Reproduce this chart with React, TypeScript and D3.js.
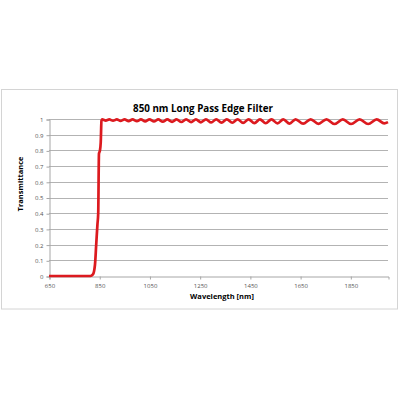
import React, { useEffect, useRef } from 'react';
import * as d3 from 'd3';

// Wavelength samples [nm] and transmittance
const wavelengths = [
  650, 815, 825, 833, 838, 843, 846, 849, 853, 856, 859, 862,
  876, 890, 905, 920, 935, 951, 967, 983, 1000, 1016, 1033, 1050, 1068, 1085,
  1103, 1121, 1140, 1158, 1177, 1196, 1216, 1235, 1255, 1275, 1296, 1316, 1337,
  1358, 1380, 1401, 1423, 1445, 1468, 1490, 1513, 1536, 1560, 1583, 1608, 1632,
  1662, 1692, 1723, 1755, 1787, 1820, 1853, 1887, 1921, 1955, 1985, 2000,
];
const transmittance = [
  0, 0, 0.01, 0.07, 0.2, 0.33, 0.4, 0.78, 0.8, 0.85, 0.99, 0.997,
  0.99, 0.997, 0.989, 0.997, 0.988, 0.997, 0.987, 0.997, 0.986, 0.997, 0.985, 0.997, 0.984, 0.997,
  0.983, 0.997, 0.982, 0.997, 0.981, 0.997, 0.98, 0.997, 0.979, 0.998, 0.978, 0.998, 0.977,
  0.998, 0.976, 0.998, 0.975, 0.998, 0.974, 0.998, 0.973, 0.998, 0.972, 0.998, 0.971, 0.998,
  0.97, 0.998, 0.969, 0.998, 0.968, 0.998, 0.968, 0.998, 0.968, 0.998, 0.972, 0.98,
];
const xTicks = [650, 850, 1050, 1250, 1450, 1650, 1850];
const yTicks = [0, 0.1, 0.2, 0.3, 0.4, 0.5, 0.6, 0.7, 0.8, 0.9, 1];

export default function App() {
  const svgRef = useRef<SVGSVGElement>(null);

  useEffect(() => {
    if (!svgRef.current) return;
    document.body.style.margin = '0';

    const svg = d3.select(svgRef.current);
    svg.selectAll('*').remove();

    const left = 49, right = 388, top = 119, bottom = 276;
    const font = "'Open Sans', 'Liberation Sans', sans-serif";

    const x = d3.scaleLinear().domain([650, 2000]).range([left, right]);
    const y = d3.scaleLinear().domain([0, 1]).range([bottom, top]);

    svg.append('rect')
      .attr('width', 400).attr('height', 400).attr('fill', '#fff');

    // chart border
    svg.append('rect')
      .attr('x', 1.5).attr('y', 89.5)
      .attr('width', 396).attr('height', 219.5)
      .attr('fill', 'none').attr('stroke', '#d4d4d4').attr('stroke-width', 1);

    // gridlines
    svg.append('g')
      .selectAll('line')
      .data(yTicks.slice(1))
      .enter()
      .append('line')
      .attr('x1', left).attr('x2', right)
      .attr('y1', d => Math.round(y(d)) + 0.5)
      .attr('y2', d => Math.round(y(d)) + 0.5)
      .attr('stroke', '#b3b3b3').attr('stroke-width', 1);

    // y axis
    const yAxis = svg.append('g')
      .attr('transform', `translate(${left + 0.5},0.5)`)
      .call(d3.axisLeft(y).tickValues(yTicks).tickSize(3).tickPadding(3).tickFormat(d => String(+d)));
    yAxis.select('.domain').attr('stroke', '#a6a6a6');
    yAxis.selectAll('.tick line').attr('stroke', '#a6a6a6');
    yAxis.selectAll('text').attr('font-family', font).attr('font-size', 6).attr('fill', '#555');

    // x axis
    const xAxis = svg.append('g')
      .attr('transform', `translate(0.5,${bottom + 0.5})`)
      .call(d3.axisBottom(x).tickValues(xTicks).tickSizeOuter(0).tickSize(3).tickPadding(4).tickFormat(d => String(d)));
    xAxis.select('.domain').attr('stroke', '#a6a6a6');
    xAxis.selectAll('.tick line').attr('stroke', '#a6a6a6');
    xAxis.selectAll('text').attr('font-family', font).attr('font-size', 6).attr('fill', '#555');

    // curve
    const line = d3.line<number>()
      .x((_, i) => x(wavelengths[i]))
      .y(d => y(d))
      .curve(d3.curveMonotoneX);

    svg.append('path')
      .datum(transmittance)
      .attr('d', line)
      .attr('fill', 'none')
      .attr('stroke', '#dc1a1f')
      .attr('stroke-width', 2.7)
      .attr('stroke-linejoin', 'round');

    // titles
    svg.append('text')
      .attr('x', 203).attr('y', 112)
      .attr('text-anchor', 'middle')
      .attr('font-family', font).attr('font-weight', 'bold').attr('font-size', 9.8)
      .attr('fill', '#000')
      .text('850 nm Long Pass Edge Filter');

    svg.append('text')
      .attr('x', 222).attr('y', 299)
      .attr('text-anchor', 'middle')
      .attr('font-family', font).attr('font-weight', 'bold').attr('font-size', 7.5)
      .attr('fill', '#000')
      .text('Wavelength [nm]');

    svg.append('text')
      .attr('transform', 'translate(23,184) rotate(-90)')
      .attr('text-anchor', 'middle')
      .attr('font-family', font).attr('font-weight', 'bold').attr('font-size', 7.5)
      .attr('fill', '#000')
      .text('Transmittance');
  }, []);

  return (
    <svg ref={svgRef} width={400} height={400} style={{ display: 'block' }}></svg>
  );
}
